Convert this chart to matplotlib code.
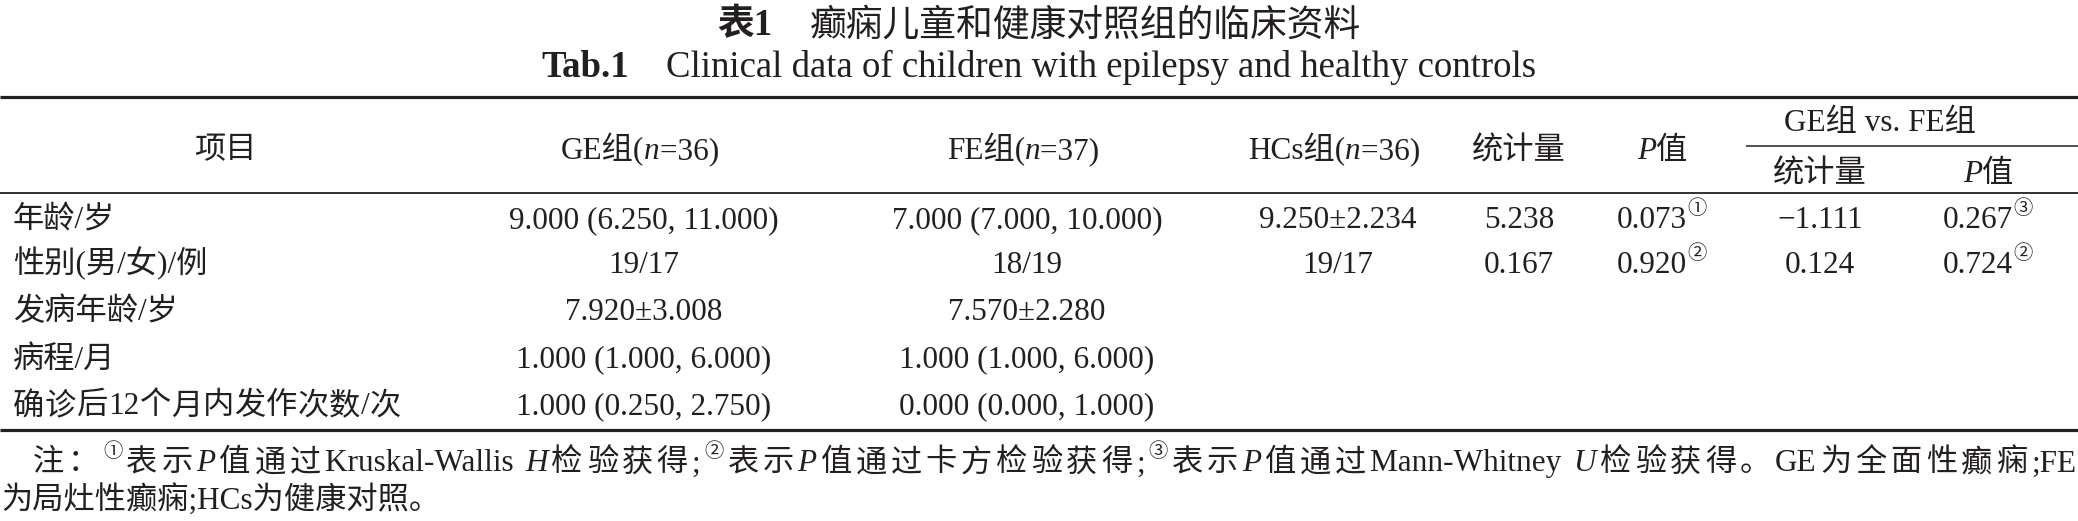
import matplotlib
matplotlib.use('Agg')
import matplotlib.pyplot as plt

# ---- table content ----
title_cn = '癫痫儿童和健康对照组的临床资料'
title_en = 'Clinical data of children with epilepsy and healthy controls'

row_labels = ['年龄/岁', '性别(男/女)/例', '发病年龄/岁', '病程/月', '确诊后12个月内发作次数/次']
ge_vals = ['9.000 (6.250, 11.000)', '19/17', '7.920±3.008', '1.000 (1.000, 6.000)', '1.000 (0.250, 2.750)']
fe_vals = ['7.000 (7.000, 10.000)', '18/19', '7.570±2.280', '1.000 (1.000, 6.000)', '0.000 (0.000, 1.000)']
hc_vals = ['9.250±2.234', '19/17', '', '', '']
stat_vals = ['5.238', '0.167', '', '', '']
p_vals = ['0.073', '0.920', '', '', '']
p_marks = ['①', '②', '', '', '']
stat2_vals = ['−1.111', '0.124', '', '', '']
p2_vals = ['0.267', '0.724', '', '', '']
p2_marks = ['③', '②', '', '', '']

W, H = 2078, 521
INK = '#231f20'
FAMILY = ['Liberation Serif', 'Noto Sans CJK SC']
FS = 22.5

fig = plt.figure(figsize=(W / 100, H / 100), dpi=100)
ax = fig.add_axes([0, 0, 1, 1])
ax.set_xlim(0, W)
ax.set_ylim(H, 0)
ax.axis('off')
R = fig.canvas.get_renderer()


def tokens(runs):
    # split plain runs so every CJK char is its own piece, latin stays grouped
    out = []
    for txt, sty in runs:
        if sty:
            out.append((txt, sty))
            continue
        buf = ''
        for ch in txt:
            if ord(ch) >= 0x2E80:
                if buf:
                    out.append((buf, ''))
                    buf = ''
                out.append((ch, ''))
            else:
                buf += ch
        if buf:
            out.append((buf, ''))
    return out


def put(x, yc, runs, size=FS, ha='center', width=None):
    """draw (text, style) runs on one baseline; yc = visual centre.
    if width is given the line is spread out to that width"""
    base = yc + size * 0.46
    if width is not None:
        runs = tokens(runs)
    arts = []
    for txt, sty in runs:
        kw = dict(fontsize=size, family=FAMILY, va='baseline', ha='left', color=INK)
        y = base
        if sty == 'i':
            kw['style'] = 'italic'
        elif sty == 'b':
            kw['weight'] = 'bold'
        elif sty == 'sup':
            kw['fontsize'] = size * 0.62
            y = base - size * 0.62
        arts.append(ax.text(0, y, txt, **kw))
    widths = [a.get_window_extent(R).width for a in arts]
    total = sum(widths)
    gap = 0
    if width is not None and len(arts) > 1:
        gap = (width - total) / (len(arts) - 1)
        total = width
    cur = x - total / 2 if ha == 'center' else x
    for a, w in zip(arts, widths):
        a.set_x(cur)
        cur += w + gap
    return total


def hline(y, x0, x1, lw):
    ax.plot([x0, x1], [y, y], color=INK, lw=lw, solid_capstyle='butt')


# titles
put(W / 2, 23, [('表1', 'b'), ('　', ''), (title_cn, '')], size=26.5)
put(W / 2, 65, [('Tab.1', 'b'), ('    ', ''), (title_en, '')], size=26.5)

# rules
hline(97, 0, W, 2.3)
hline(146, 1746, W, 1.1)
hline(193, 0, W, 1.3)
hline(430, 0, W, 2.3)

# header
col_x = {'item': 225, 'ge': 644, 'fe': 1027, 'hc': 1338, 'stat': 1519,
         'p': 1662, 'stat2': 1820, 'p2': 1988}
put(col_x['item'], 148, [('项目', '')])
put(col_x['ge'], 149, [('GE组(', ''), ('n', 'i'), ('=36) ', '')])
put(col_x['fe'], 149, [('FE组(', ''), ('n', 'i'), ('=37) ', '')])
put(col_x['hc'], 149, [('HCs组(', ''), ('n', 'i'), ('=36) ', '')])
put(col_x['stat'], 149, [('统计量', '')])
put(col_x['p'], 149, [('P', 'i'), ('值', '')])
put(1880, 121, [('GE组 vs. FE组', '')])
put(col_x['stat2'], 172, [('统计量', '')])
put(col_x['p2'], 172, [('P', 'i'), ('值', '')])

# body
row_y = [218, 263, 310, 357, 404]
for i, y in enumerate(row_y):
    put(13, y, [(row_labels[i], '')], ha='left', width=388 if i == 4 else None)
    put(col_x['ge'], y, [(ge_vals[i], '')])
    put(col_x['fe'], y, [(fe_vals[i], '')])
    if hc_vals[i]:
        put(col_x['hc'], y, [(hc_vals[i], '')])
    if stat_vals[i]:
        put(col_x['stat'], y, [(stat_vals[i], '')])
    if p_vals[i]:
        put(col_x['p'], y, [(p_vals[i], ''), (p_marks[i], 'sup')])
    if stat2_vals[i]:
        put(col_x['stat2'], y, [(stat2_vals[i], '')])
    if p2_vals[i]:
        put(col_x['p2'], y, [(p2_vals[i], ''), (p2_marks[i], 'sup')])

# notes
note1 = [('注：', ''), ('①', 'sup'), ('表示', ''), ('P', 'i'), ('值通过Kruskal-Wallis ', ''),
         ('H', 'i'), ('检验获得;', ''), ('②', 'sup'), ('表示', ''), ('P', 'i'),
         ('值通过卡方检验获得;', ''), ('③', 'sup'), ('表示', ''), ('P', 'i'),
         ('值通过Mann-Whitney ', ''), ('U', 'i'), ('检验获得。GE为全面性癫痫;FE', '')]
put(33, 461, note1, ha='left', width=W - 33 - 2)
put(1, 498, [('为局灶性癫痫;HCs为健康对照。', '')], ha='left')

fig.savefig('out.png', dpi=100, facecolor='white')
